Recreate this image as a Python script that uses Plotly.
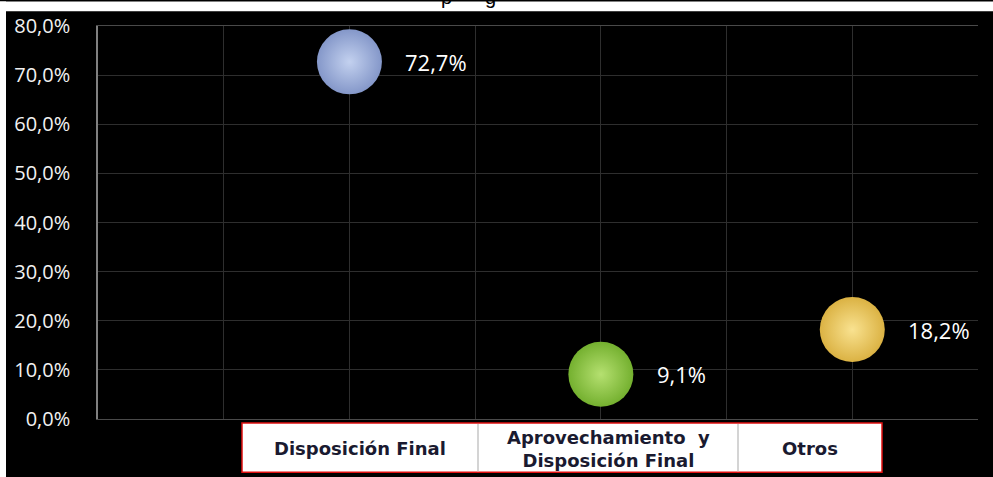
import plotly.graph_objects as go

# ---- data ----
categories = ["Disposición Final", "Aprovechamiento  y<br>Disposición Final", "Otros"]
x_values = [2, 4, 6]
percentages = [72.7, 9.1, 18.2]
bubble_colors = ["#8497c9", "#74b02f", "#dbb243"]
highlight_colors = ["#c3d1ef", "#b5e070", "#f9e290"]
y_ticks = [0, 10, 20, 30, 40, 50, 60, 70, 80]
y_tick_labels = [f"{t:.1f}".replace(".", ",") + "%" for t in y_ticks]

# ---- layout geometry (pixels) ----
W, H = 993, 477
L, R, T, B = 98, 15, 20, 58
PW, PH = W - L - R, H - T - B


def xp(px):
    return (px - L) / PW


def yp(py):
    return (H - B - py) / PH


fig = go.Figure()
fig.add_trace(go.Scatter(
    x=x_values, y=percentages, mode="markers",
    marker=dict(size=65, color=bubble_colors,
                gradient=dict(type="radial", color=highlight_colors),
                line=dict(width=0)),
    hoverinfo="skip", showlegend=False,
))

annotations = []
for xv, v in zip(x_values, percentages):
    annotations.append(dict(
        x=xv, y=v, xref="x", yref="y", xanchor="left", yanchor="middle",
        xshift=54, showarrow=False,
        text=f"{v:.1f}".replace(".", ",") + "%",
        font=dict(family="Open Sans", size=22, color="#ffffff"),
    ))

# category table cells (pixel bounds)
cell_edges = [242, 478, 738, 882]
tbl_top, tbl_bot = 423, 473
shapes = []
# white strips at top / left of the picture
shapes.append(dict(type="rect", xref="paper", yref="paper", x0=xp(-5), x1=xp(W + 5),
                   y0=yp(5), y1=yp(-5), fillcolor="white", line=dict(width=0), layer="above"))
shapes.append(dict(type="rect", xref="paper", yref="paper", x0=xp(-5), x1=xp(6),
                   y0=yp(H + 5), y1=yp(-5), fillcolor="white", line=dict(width=0), layer="above"))
shapes.append(dict(type="rect", xref="paper", yref="paper",
                   x0=xp(cell_edges[0]), x1=xp(cell_edges[-1]),
                   y0=yp(tbl_bot), y1=yp(tbl_top), fillcolor="white",
                   line=dict(color="#e01010", width=1.5), layer="above"))
for e in cell_edges[1:-1]:
    shapes.append(dict(type="line", xref="paper", yref="paper", x0=xp(e), x1=xp(e),
                       y0=yp(tbl_bot - 1), y1=yp(tbl_top + 1),
                       line=dict(color="#d4d4d4", width=2), layer="above"))
for i, cat in enumerate(categories):
    cx = (cell_edges[i] + cell_edges[i + 1]) / 2
    annotations.append(dict(
        x=xp(cx), y=yp((tbl_top + tbl_bot) / 2 + 1), xref="paper", yref="paper",
        xanchor="center", yanchor="middle", showarrow=False, text=f"<b>{cat}</b>",
        font=dict(family="DejaVu Sans", size=18, color="#1a1a30"),
    ))

# cropped title descenders at the very top
for ch, px in [("p", 446), ("g", 490)]:
    annotations.append(dict(
        x=xp(px), y=yp(3), xref="paper", yref="paper", xanchor="center", yanchor="bottom",
        showarrow=False, text=ch, borderpad=0,
        font=dict(family="Liberation Sans", size=20, color="black"),
    ))

fig.update_layout(
    width=W, height=H,
    margin=dict(l=L, r=R, t=T, b=B, pad=0),
    paper_bgcolor="black", plot_bgcolor="black",
    xaxis=dict(range=[0, 7], dtick=1, tick0=0, showgrid=True, gridcolor="#2e2e2e", gridwidth=1,
               showticklabels=False, ticks="", zeroline=False,
               showline=True, linecolor="#4a4a4a", linewidth=1, mirror=True),
    yaxis=dict(range=[0, 80], tickvals=y_ticks, ticktext=y_tick_labels,
               showgrid=True, gridcolor="#2e2e2e", gridwidth=1, zeroline=False,
               showline=True, linecolor="#808080", linewidth=1.5, ticks="",
               ticklabelstandoff=22,
               tickfont=dict(family="Open Sans", size=20, color="#f2f2f2")),
    shapes=shapes, annotations=annotations,
)

fig.write_html("out.html", config={"displayModeBar": False},
               post_script="document.body.style.margin='0';document.body.style.overflow='hidden';")
